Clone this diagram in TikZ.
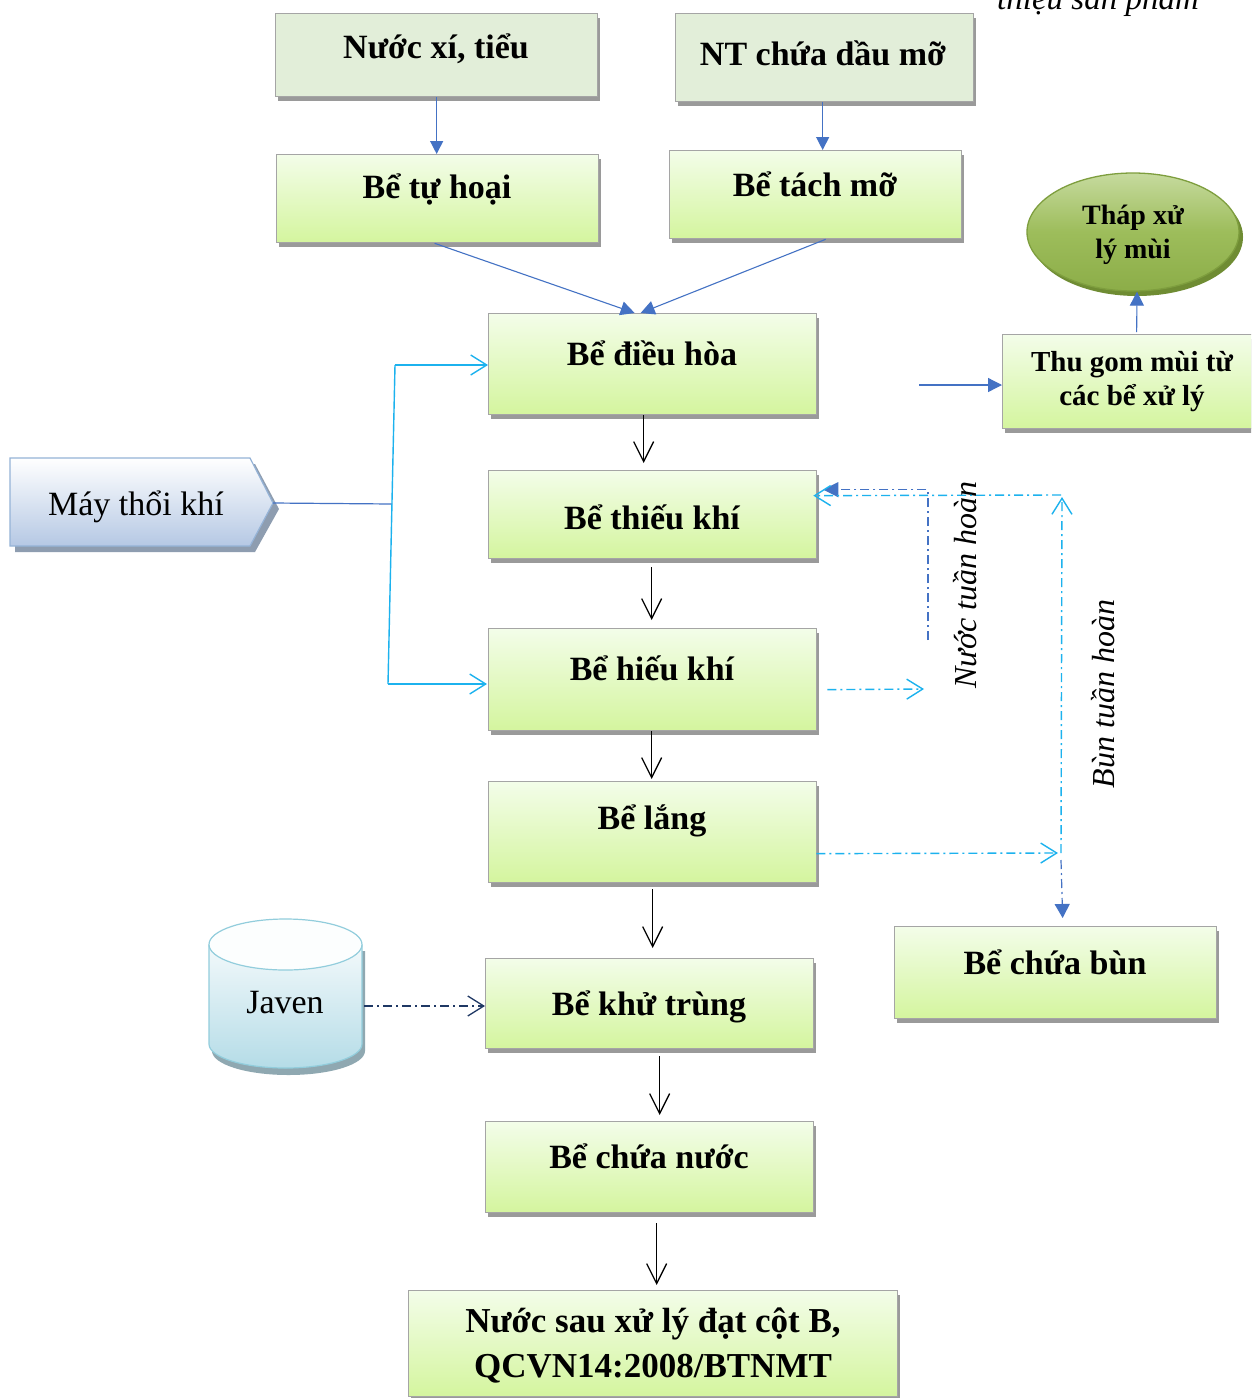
\documentclass[tikz,border=0pt]{standalone}
\usepackage{fontspec}
\setmainfont{Liberation Serif}
\usetikzlibrary{arrows.meta,calc,shapes.geometric,shadows}
\definecolor{boxtop}{HTML}{F3FDE9}
\definecolor{boxbot}{HTML}{D4F59E}
\definecolor{boxline}{HTML}{A5A5A5}
\definecolor{shadowg}{HTML}{9A9A9A}
\definecolor{topfill}{HTML}{E2EED9}
\definecolor{arrblue}{HTML}{4472C4}
\definecolor{arrcyan}{HTML}{1CB2EE}
\definecolor{navy}{HTML}{1F3864}
\definecolor{eltop}{HTML}{C6DA9E}
\definecolor{elmid}{HTML}{9DBD5B}
\definecolor{elbot}{HTML}{8CAD48}
\definecolor{elline}{HTML}{7E9E3E}
\definecolor{elshadow}{HTML}{6F8C33}
\definecolor{mtbot}{HTML}{B5C8E4}
\definecolor{mtline}{HTML}{95B3D7}
\definecolor{mtshadow}{HTML}{8E9DB0}
\definecolor{jvbot}{HTML}{B5DCE7}
\definecolor{jvline}{HTML}{92CDDC}
\definecolor{jvshadow}{HTML}{8FA8B1}
\begin{document}
\begin{tikzpicture}[x=1pt,y=-1pt,
  box/.style={draw=boxline, line width=1.3pt, top color=boxtop, bottom color=boxbot,
    anchor=north west, inner sep=0pt,
    drop shadow={shadow xshift=2pt, shadow yshift=-4pt, fill=shadowg, opacity=1}},
  srcbox/.style={draw=boxline, line width=1.3pt, fill=topfill, anchor=north west, inner sep=0pt,
    drop shadow={shadow xshift=2pt, shadow yshift=-4pt, fill=shadowg, opacity=1}},
  lbl/.style={font=\bfseries\fontsize{34}{40}\selectfont, inner sep=0pt},
  bluearr/.style={draw=arrblue, line width=1.3pt, -{Triangle[length=14pt,width=14pt]}, arrblue},
  blackarr/.style={draw=black, line width=1.3pt, -{Straight Barb[length=20pt,width=20pt,line width=1.3pt]}},
  cyanarr/.style={draw=arrcyan, line width=1.4pt, -{Straight Barb[length=16pt,width=20pt,line width=1.4pt]}},
  dd/.style={dash pattern=on 9pt off 4pt on 2pt off 4pt},
]
\clip (0,0) rectangle (1251,1398);
\useasboundingbox (0,0) rectangle (1251,1398);
\fill[white] (0,0) rectangle (1251,1398);

% header fragment
\node[anchor=base west, inner sep=0pt, font=\itshape\fontsize{33}{38}\selectfont] (hdr) at (997,9) {thiệu sản phẩm};

% boxes
\node[srcbox, minimum width=322, minimum height=83] (nx) at (275,13) {};
\node[srcbox, minimum width=298, minimum height=88] (nt) at (675,13) {};
\node[box, minimum width=322, minimum height=88] (bth) at (276,154) {};
\node[box, minimum width=292, minimum height=88] (btm) at (669,150) {};
\node[box, minimum width=328, minimum height=101] (bdh) at (488,313) {};
\node[box, minimum width=328, minimum height=88] (btk) at (488,470) {};
\node[box, minimum width=328, minimum height=102] (bhk) at (488,628) {};
\node[box, minimum width=328, minimum height=101] (bl) at (488,781) {};
\node[box, minimum width=328, minimum height=90] (bkt) at (485,958) {};
\node[box, minimum width=328, minimum height=91] (bcn) at (485,1121) {};
\node[box, minimum width=489, minimum height=106] (nsx) at (408,1290) {};
\node[box, minimum width=322, minimum height=92] (bcb) at (894,926) {};
\node[box, minimum width=262, minimum height=94] (tg) at (1002,334) {};

% ellipse
\node[ellipse, draw=elline, line width=1.3pt, top color=eltop, bottom color=elbot, middle color=elmid,
  minimum width=212, minimum height=118,
  drop shadow={shadow xshift=4pt, shadow yshift=-5pt, fill=elshadow, opacity=1}] (thap) at (1133,232) {};

% blower shape
\fill[mtshadow] (15,464) -- (255,464) -- (279,509) -- (255,552) -- (15,552) -- cycle;
\shade[top color=white, bottom color=mtbot, draw=mtline, line width=1.2pt]
  (10,458) -- (250,458) -- (273,503) -- (250,546) -- (10,546) -- cycle;
\coordinate (mt) at (273,503);

% Javen cylinder
\fill[jvshadow] (212,951) -- (212,1051) arc[start angle=180,end angle=0,x radius=76.5,y radius=24] -- (365,951) -- cycle;
\shade[top color=white, bottom color=jvbot]
  (209,944.5) -- (209,1044) arc[start angle=180,end angle=0,x radius=76.5,y radius=24]
  -- (362,944.5) arc[start angle=0,end angle=-180,x radius=76.5,y radius=25.5] -- cycle;
\draw[jvline, line width=1.2pt] (209,944.5) -- (209,1044) arc[start angle=180,end angle=0,x radius=76.5,y radius=24] -- (362,944.5);
\draw[jvline, line width=1.2pt, fill=white!96!jvbot] (285.5,944.5) ellipse[x radius=76.5, y radius=25.5];
\coordinate (jv) at (364,1006);

% labels
\node[lbl] (tnx) at (436,49) {Nước xí, tiểu};
\node[lbl] (tnt) at (823,53) {NT chứa dầu mỡ};
\node[lbl] (tbth) at (437,189) {Bể tự hoại};
\node[lbl] (tbtm) at (815,184) {Bể tách mỡ};
\node[lbl] (tbdh) at (652,353) {Bể điều hòa};
\node[lbl] (tbtk) at (652,517) {Bể thiếu khí};
\node[lbl] (tbhk) at (652,668) {Bể hiếu khí};
\node[lbl] (tbl) at (652,821) {Bể lắng};
\node[lbl] (tbkt) at (649,1007) {Bể khử trùng};
\node[lbl] (tbcn) at (649,1156) {Bể chứa nước};
\node[lbl, align=center, font=\bfseries\fontsize{35}{45}\selectfont] (tnsx) at (653,1345) {Nước sau xử lý đạt cột B,\\QCVN14:2008/BTNMT};
\node[lbl] (tbcb) at (1055,962) {Bể chứa bùn};
\node[lbl, align=center, font=\bfseries\fontsize{29}{34}\selectfont] (ttg) at (1132,382) {Thu gom mùi từ\\các bể xử lý};
\node[lbl, align=center, font=\bfseries\fontsize{28}{34}\selectfont] (tthap) at (1133,235) {Tháp xử\\lý mùi};
\node[inner sep=0pt, font=\fontsize{34}{40}\selectfont] (tmt) at (136,507) {Máy thổi khí};
\node[inner sep=0pt, font=\fontsize{34}{40}\selectfont] (tjv) at (285,1003) {Javen};
\node[inner sep=0pt, rotate=90, font=\itshape\fontsize{32}{38}\selectfont] (tnth) at (965,585) {Nước tuần hoàn};
\node[inner sep=0pt, rotate=90, font=\itshape\fontsize{32}{38}\selectfont] (tbth2) at (1103,694) {Bùn tuần hoàn};

% top connectors
\draw[bluearr, -{Triangle[length=13pt,width=13pt]}] (nx.south) -- (nx.south |- bth.north);
\draw[bluearr, -{Triangle[length=13pt,width=13pt]}] ($(nt.south)+(-2,0)$) -- ($(nt.south |- btm.north)+(-2,0)$);
\draw[bluearr, line width=1.1pt] ($(bth.south)+(-3,0)$) -- ($(bdh.north)+(-18,0)$);
\draw[bluearr, line width=1.1pt] ($(btm.south)+(10,0)$) -- ($(bdh.north)+(-12,0)$);

% main column
\draw[blackarr] ($(bdh.south)+(-9,0)$) -- ($(btk.north)+(-9,-7)$);
\draw[blackarr] ($(btk.south)+(-1,8)$) -- ($(bhk.north)+(-1,-8)$);
\draw[blackarr] ($(bhk.south)+(-1,0)$) -- ($(bl.north)+(-1,-2)$);
\draw[blackarr] ($(bl.south)+(0,6)$) -- ($(bkt.north)+(3,-10)$);
\draw[blackarr] ($(bkt.south)+(10,7)$) -- ($(bcn.north)+(10,-6)$);
\draw[blackarr] ($(bcn.south)+(7,10)$) -- ($(nsx.north)+(3.5,-5)$);

% air
\coordinate (aj) at (392,504);
\coordinate (a1) at (395,365);
\coordinate (a2) at (388,684);
\draw[arrblue, line width=1.2pt] (mt) -- (aj);
\draw[arrcyan, line width=1.4pt] (a1) -- (a2);
\draw[cyanarr] (a1) -- (bdh.west |- a1);
\draw[cyanarr] ($(a2)+(0,0)$) -- ($(bhk.west |- a2)+(-1,0)$);

% Javen
\draw[navy, line width=1.3pt, dd, -{Straight Barb[length=16pt,width=20pt,line width=1.3pt]}] (jv) -- (bkt.west |- jv);

% recirculation
\coordinate (h2) at (924,689);
\coordinate (n1) at (928,640);
\coordinate (r1) at (1061,853);
\coordinate (r2) at (1061,495);
\draw[cyanarr, dd] ($(bhk.east)+(10,10)$) -- (h2);
\draw[arrblue, line width=1.2pt, dd, -{Triangle[length=15pt,width=15pt]}] (n1) |- ($(btk.east)+(6,-25)$);
\draw[cyanarr, dd] (r2) -- ($(btk.east)+(-4,-19)$);
\draw[cyanarr, dd] (r1) -- ($(r2)+(1,2)$);
\draw[cyanarr, dd] ($(bl.east)+(-1,21.5)$) -- ($(r1)+(-3,0)$);
\draw[arrblue, line width=1.2pt, dd, -{Triangle[length=14pt,width=15pt]}] ($(r1)+(0,7)$) -- ($(bcb.north)+(7,-8)$);

% odour
\coordinate (g1) at (919,385);
\draw[bluearr] (g1) -- (tg.west |- g1);
\draw[bluearr, line width=1.1pt] ($(tg.north)+(3,-2)$) -- ($(thap.south)+(4,0)$);
\end{tikzpicture}
\end{document}
